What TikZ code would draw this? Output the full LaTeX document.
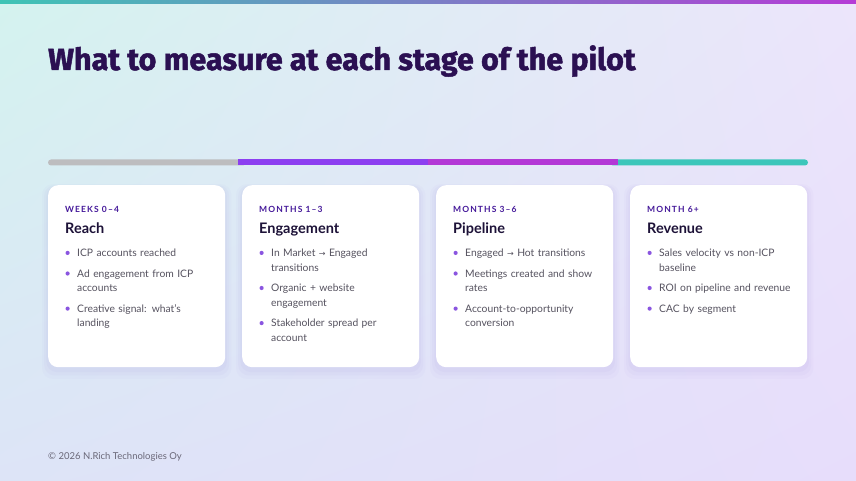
\documentclass[tikz,border=0pt]{standalone}
\usepackage{fontspec}
\setmainfont{Lato}
\newfontfamily\titlefont{Fira Sans}[BoldFeatures={FakeBold=1.6}]
\newfontfamily\stagefont[LetterSpace=13]{Lato}
\newfontfamily\arrowfont{DejaVu Sans}
\usetikzlibrary{positioning, shadows, shadings}

\definecolor{bgTL}{HTML}{D4F3EF}
\definecolor{bgBL}{HTML}{DDE4F7}
\definecolor{bgTR}{HTML}{ECE5FB}
\definecolor{bgBR}{HTML}{E7DDFB}
\definecolor{stripeL}{HTML}{3EC4B5}
\definecolor{stripeM}{HTML}{8E45EF}
\definecolor{stripeR}{HTML}{B53BD6}
\definecolor{titleC}{HTML}{2B1052}
\definecolor{stageC}{HTML}{45199A}
\definecolor{headC}{HTML}{1D1238}
\definecolor{itemC}{HTML}{55525F}
\definecolor{dotC}{HTML}{8A55E0}
\definecolor{footC}{HTML}{6A6878}
\definecolor{shadowC}{HTML}{7B5FD0}
\definecolor{barGray}{HTML}{BDBDBF}
\definecolor{barPurple}{HTML}{8C3FF0}
\definecolor{barMagenta}{HTML}{B338D6}
\definecolor{barTeal}{HTML}{3CC6BA}

\newcommand{\tto}{{\arrowfont\fontsize{8}{10}\selectfont →}}

\tikzset{
    card/.style={fill=white, rounded corners=10pt, minimum width=177pt, minimum height=182pt, inner sep=0pt, anchor=north west,
        general shadow={fill=shadowC, opacity=0.025, shadow yshift=-5pt, shadow scale=1.07},
        general shadow={fill=shadowC, opacity=0.03, shadow yshift=-4pt, shadow scale=1.045},
        general shadow={fill=shadowC, opacity=0.035, shadow yshift=-3pt, shadow scale=1.02}},
    stage/.style={anchor=base west, inner sep=0pt, text=stageC, font=\stagefont\bfseries\fontsize{8.5}{10}\selectfont},
    head/.style={anchor=base west, inner sep=0pt, text=headC, font=\bfseries\fontsize{14.5}{17}\selectfont},
    item/.style={anchor=base west, inner sep=0pt, text width=140pt, align=left, text=itemC, font=\fontsize{10.3}{14.5}\selectfont},
    dot/.style={fill=dotC}
}

\begin{document}
\begin{tikzpicture}[x=1pt, y=-1pt]
        \useasboundingbox (0,0) rectangle (856,481);
        % Background
        \shade[upper left=bgTL, lower left=bgBL, upper right=bgTR, lower right=bgBR] (0,0) rectangle (856,481);
        \shade[left color=stripeL, middle color=stripeM, right color=stripeR] (0,0) rectangle (856,4);

        % Title
        \node (title) [anchor=base west, inner sep=0pt, text=titleC, font=\titlefont\bfseries\fontsize{30.5}{36}\selectfont] at (48,70) {What to measure at each stage of the pilot};

        % Progress bar
        \fill[barTeal, rounded corners=3pt] (610,159.5) rectangle (808,165.5);
        \fill[barGray, rounded corners=3pt] (48,159.5) rectangle (246,165.5);
        \fill[barPurple] (238,159.5) rectangle (428,165.5);
        \fill[barMagenta] (428,159.5) rectangle (618,165.5);

        % Cards
        \node (reach) [card] at (48,185) {};
        \node (engage) [card] at (242,185) {};
        \node (pipe) [card] at (436,185) {};
        \node (revenue) [card] at (630,185) {};

        % Reach
        \node (reachWhen) [stage] at ([xshift=17pt, yshift=-27pt]reach.north west) {WEEKS 0–4};
        \node (reachHead) [head] at ([yshift=-21pt]reachWhen.base west) {Reach};
        \node (reach1) [item] at ([xshift=12pt, yshift=-23.7pt]reachHead.base west) {ICP accounts reached};
        \node (reach2) [item] at ([yshift=-20.6pt]reach1.base west) {Ad engagement from ICP\\accounts};
        \node (reach3) [item] at ([yshift=-35.1pt]reach2.base west) {Creative signal: what’s\\landing};

        % Engagement
        \node (engageWhen) [stage] at ([xshift=17pt, yshift=-27pt]engage.north west) {MONTHS 1–3};
        \node (engageHead) [head] at ([yshift=-21pt]engageWhen.base west) {Engagement};
        \node (engage1) [item] at ([xshift=12pt, yshift=-23.7pt]engageHead.base west) {In Market \tto{} Engaged\\transitions};
        \node (engage2) [item] at ([yshift=-35.1pt]engage1.base west) {Organic + website\\engagement};
        \node (engage3) [item] at ([yshift=-35.1pt]engage2.base west) {Stakeholder spread per\\account};

        % Pipeline
        \node (pipeWhen) [stage] at ([xshift=17pt, yshift=-27pt]pipe.north west) {MONTHS 3–6};
        \node (pipeHead) [head] at ([yshift=-21pt]pipeWhen.base west) {Pipeline};
        \node (pipe1) [item] at ([xshift=12pt, yshift=-23.7pt]pipeHead.base west) {Engaged \tto{} Hot transitions};
        \node (pipe2) [item] at ([yshift=-20.6pt]pipe1.base west) {Meetings created and show\\rates};
        \node (pipe3) [item] at ([yshift=-35.1pt]pipe2.base west) {Account-to-opportunity\\conversion};

        % Revenue
        \node (revenueWhen) [stage] at ([xshift=17pt, yshift=-27pt]revenue.north west) {MONTH 6+};
        \node (revenueHead) [head] at ([yshift=-21pt]revenueWhen.base west) {Revenue};
        \node (revenue1) [item] at ([xshift=12pt, yshift=-23.7pt]revenueHead.base west) {Sales velocity vs non-ICP\\baseline};
        \node (revenue2) [item] at ([yshift=-35.1pt]revenue1.base west) {ROI on pipeline and revenue};
        \node (revenue3) [item] at ([yshift=-20.6pt]revenue2.base west) {CAC by segment};

        % Bullet dots
        \foreach \i in {reach1,reach2,reach3,engage1,engage2,engage3,pipe1,pipe2,pipe3,revenue1,revenue2,revenue3}
            \fill[dot] ([shift={(-9.4pt,3.8pt)}]\i.base west) circle (2.1pt);

        % Footer
        \node (footer) [anchor=base west, inner sep=0pt, text=footC, font=\fontsize{9.5}{11}\selectfont] at (48,459.5) {© 2026 N.Rich Technologies Oy};
    \end{tikzpicture}
\end{document}
